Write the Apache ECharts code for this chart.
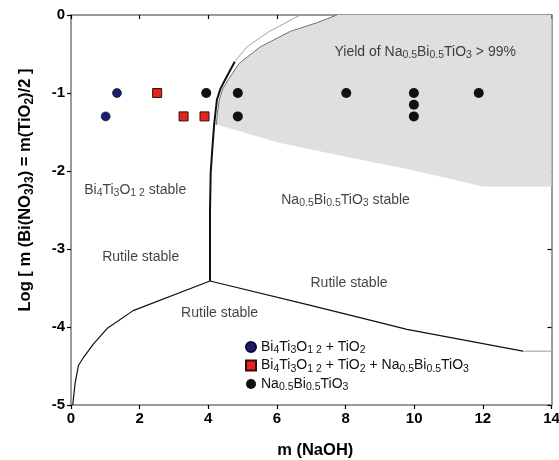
<!DOCTYPE html>
<html><head><meta charset="utf-8">
<script src="https://cdn.jsdelivr.net/npm/echarts@6/dist/echarts.min.js"></script>
<style>html,body{margin:0;padding:0;background:#fff}#c{width:559px;height:460px}</style>
</head><body><div id="c"></div>
<script>
// ---- data ----
const xTicks = [0, 2, 4, 6, 8, 10, 12, 14];
const yTicks = [-5, -4, -3, -2, -1, 0];

// experimental points
const bitX = [1.01, 1.34];
const bitY = [-1.3, -1.0];
const mixX = [2.51, 3.28, 3.89];
const mixY = [-1.0, -1.3, -1.3];
const nbtX = [3.94, 4.86, 4.86, 8.02, 9.99, 9.99, 9.99, 11.88];
const nbtY = [-1.0, -1.0, -1.3, -1.0, -1.0, -1.15, -1.3, -1.0];

// boundary: Rutile / Bi4Ti3O12 (left-lower)
const lowX = [0.05, 0.12, 0.22, 0.35, 0.65, 1.05, 1.81, 4.05];
const lowY = [-5.0, -4.72, -4.49, -4.4, -4.22, -4.02, -3.79, -3.41];
// boundary: Rutile / Na0.5Bi0.5TiO3 (right-lower)
const rightX = [4.05, 6.95, 8.42, 9.79, 12.7, 13.17];
const rightY = [-3.41, -3.72, -3.88, -4.03, -4.27, -4.31];
const rightTailX = [13.17, 14];
const rightTailY = [-4.31, -4.31];
// boundary: Bi4Ti3O12 / Na0.5Bi0.5TiO3 (vertical, black part)
const vertX = [4.05, 4.05, 4.07, 4.12, 4.17, 4.25, 4.35, 4.49, 4.77];
const vertY = [-3.41, -2.5, -2.02, -1.7, -1.41, -1.09, -0.95, -0.83, -0.6];
// continuation (thin grey)
const vertTopX = [4.77, 5.12, 5.78, 6.68];
const vertTopY = [-0.6, -0.41, -0.21, 0];
// yield > 99 % region
const innerX = [4.23, 4.27, 4.32, 4.42, 4.58, 4.9, 5.51, 6.39, 7.16, 7.75];
const innerY = [-1.41, -1.25, -1.09, -0.95, -0.83, -0.62, -0.41, -0.21, -0.1, 0];
const yieldLowX = [14, 12.0, 9.97, 8.05, 6.09, 4.29];
const yieldLowY = [-2.2, -2.2, -1.99, -1.82, -1.64, -1.41];

// annotations
const noteText = [
  '{n|Yield of Na}{s|0.5}{n|Bi}{s|0.5}{n|TiO}{s|3}{n| > 99%}',
  '{n|Bi}{s|4}{n|Ti}{s|3}{n|O}{s|1 2}{n| stable}',
  '{n|Na}{s|0.5}{n|Bi}{s|0.5}{n|TiO}{s|3}{n| stable}',
  '{n|Rutile stable}',
  '{n|Rutile stable}',
  '{n|Rutile stable}'
];
const noteX = [10.32, 1.87, 8.0, 2.03, 8.1, 4.33];
const noteY = [-0.47, -2.24, -2.37, -3.1, -3.44, -3.82];

const seriesNames = ['Bi4Ti3O12 + TiO2', 'Bi4Ti3O12 + TiO2 + Na0.5Bi0.5TiO3', 'Na0.5Bi0.5TiO3'];
const seriesRich = [
  '{n|Bi}{s|4}{n|Ti}{s|3}{n|O}{s|1 2}{n| + TiO}{s|2}',
  '{n|Bi}{s|4}{n|Ti}{s|3}{n|O}{s|1 2}{n| + TiO}{s|2}{n| + Na}{s|0.5}{n|Bi}{s|0.5}{n|TiO}{s|3}',
  '{n|Na}{s|0.5}{n|Bi}{s|0.5}{n|TiO}{s|3}'
];

const yName = '{b|Log [ m (Bi(NO}{bs|3}{b|)}{bs|3}{b|) = m(TiO}{bs|2}{b|)/2 ]}';
const xName = 'm (NaOH)';

// ---- helpers ----
const zip = (xs, ys) => xs.map((x, i) => [x, ys[i]]);
const FONT = '"Liberation Sans", Arial, sans-serif';
const rich = {
  n: { fontFamily: FONT, fontSize: 14, lineHeight: 16, color: '#111' },
  s: { fontFamily: FONT, fontSize: 10.5, lineHeight: 11, padding: [7, 0, 0, 0], color: '#111' }
};
const richBold = {
  b: { fontFamily: FONT, fontSize: 16.5, fontWeight: 'bold', lineHeight: 19, color: '#000' },
  bs: { fontFamily: FONT, fontSize: 12, fontWeight: 'bold', lineHeight: 12, padding: [9, 0, 0, 0], color: '#000' }
};
const axisLineStyle = { color: '#7a7a7a', width: 1.5 };
const lineSeries = (xs, ys, color, width, z) => ({
  type: 'line', data: zip(xs, ys), symbol: 'none', silent: true, z: z || 3,
  lineStyle: { color: color, width: width }, xAxisIndex: 0, yAxisIndex: 0
});

const chart = echarts.init(document.getElementById('c'), null, { renderer: 'canvas' });
chart.setOption({
  animation: false,
  backgroundColor: '#fff',
  grid: { left: 71, right: 7.5, top: 15, bottom: 55, containLabel: false, outerBoundsMode: 'none' },
  xAxis: [{
    type: 'value', min: xTicks[0], max: xTicks[xTicks.length - 1], interval: 2, position: 'bottom',
    axisLine: { onZero: false, lineStyle: axisLineStyle },
    axisTick: { inside: false, length: 4, lineStyle: { color: '#000', width: 1.2 } },
    axisLabel: { color: '#000', fontFamily: FONT, fontWeight: 'bold', fontSize: 15, margin: 6 },
    splitLine: { show: false },
    name: xName, nameLocation: 'middle', nameGap: 37,
    nameTextStyle: { color: '#000', fontFamily: FONT, fontWeight: 'bold', fontSize: 16.5, padding: [0, 0, 0, 8] }
  }, {
    type: 'value', min: xTicks[0], max: xTicks[xTicks.length - 1], interval: 2, position: 'top',
    axisLine: { onZero: false, lineStyle: axisLineStyle },
    axisTick: { inside: true, length: 4, lineStyle: { color: '#000', width: 1.2 } },
    axisLabel: { show: false }, splitLine: { show: false }
  }],
  yAxis: [{
    type: 'value', min: yTicks[0], max: yTicks[yTicks.length - 1], interval: 1, position: 'left',
    axisLine: { onZero: false, lineStyle: axisLineStyle },
    axisTick: { inside: false, length: 4, lineStyle: { color: '#000', width: 1.2 } },
    axisLabel: { color: '#000', fontFamily: FONT, fontWeight: 'bold', fontSize: 15, margin: 6 },
    splitLine: { show: false },
    name: yName, nameLocation: 'middle', nameGap: 36, nameRotate: 90,
    nameTextStyle: { rich: richBold, padding: [0, 0, 0, 40] }
  }, {
    type: 'value', min: yTicks[0], max: yTicks[yTicks.length - 1], interval: 1, position: 'right',
    axisLine: { onZero: false, lineStyle: axisLineStyle },
    axisTick: { inside: true, length: 4, lineStyle: { color: '#000', width: 1.2 } },
    axisLabel: { show: false }, splitLine: { show: false }
  }],
  legend: {
    data: seriesNames, orient: 'vertical', left: 245, top: 338, padding: 0,
    itemWidth: 10, itemHeight: 10, itemGap: 0.5,
    formatter: name => seriesRich[seriesNames.indexOf(name)],
    textStyle: { rich: rich },
    selectedMode: false
  },
  series: [
    {
      type: 'custom', silent: true, z: 1, xAxisIndex: 0, yAxisIndex: 0,
      data: [[innerX[0], innerY[0]]],
      renderItem: function (params, api) {
        const pts = zip(innerX, innerY).map(p => api.coord(p));
        pts.push(api.coord([14, 0]));
        zip(yieldLowX, yieldLowY).forEach(p => pts.push(api.coord(p)));
        return { type: 'polygon', shape: { points: pts }, style: { fill: '#dfdfdf', stroke: null } };
      }
    },
    lineSeries(lowX, lowY, '#111', 1.2),
    lineSeries(rightX, rightY, '#111', 1.2),
    lineSeries(rightTailX, rightTailY, '#9a9a9a', 1),
    lineSeries(vertX, vertY, '#111', 2),
    lineSeries(vertTopX, vertTopY, '#a0a0a0', 1),
    lineSeries(innerX, innerY, '#707070', 1),
    {
      name: seriesNames[0], type: 'scatter', data: zip(bitX, bitY), symbol: 'circle', symbolSize: 9, z: 5,
      itemStyle: { color: '#1d1d6e', borderColor: '#0a0a30', borderWidth: 0.6, opacity: 1 }
    },
    {
      name: seriesNames[1], type: 'scatter', data: zip(mixX, mixY), symbol: 'rect', symbolSize: 9, z: 5,
      itemStyle: { color: '#e0261c', borderColor: '#3a0a0a', borderWidth: 1, opacity: 1 }
    },
    {
      name: seriesNames[2], type: 'scatter', data: zip(nbtX, nbtY), symbol: 'circle', symbolSize: 10, z: 5,
      itemStyle: { color: '#111111', opacity: 1 }
    },
    {
      type: 'scatter', silent: true, z: 6, symbolSize: 0,
      data: noteX.map((x, i) => ({ value: [x, noteY[i]], text: noteText[i] })),
      label: {
        show: true, position: 'inside',
        formatter: p => noteText[p.dataIndex],
        rich: rich
      }
    }
  ]
});
</script></body></html>
